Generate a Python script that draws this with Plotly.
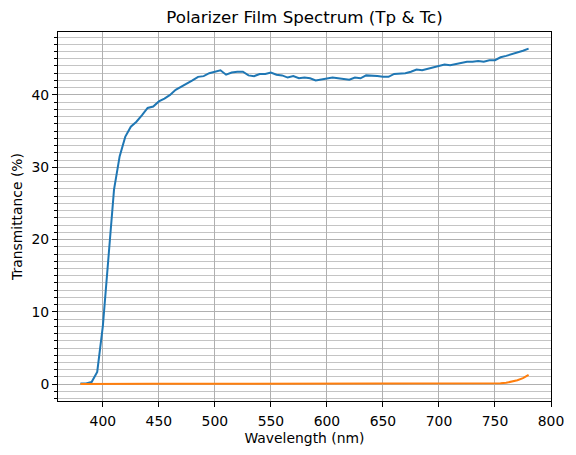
import plotly.graph_objects as go

wavelength = list(range(380, 781, 5))

tp = [0.1, 0.1, 0.3, 1.7, 8.0, 17.5, 26.9, 31.5, 34.2, 35.6, 36.3, 37.2, 38.2, 38.4, 39.1, 39.5,
      40.0, 40.7, 41.1, 41.6, 42.0, 42.5, 42.6, 43.0, 43.2, 43.4, 42.8, 43.1, 43.2, 43.2, 42.7,
      42.6, 42.9, 42.9, 43.1, 42.8, 42.7, 42.4, 42.6, 42.3, 42.4, 42.3, 42.0, 42.1, 42.2, 42.4,
      42.3, 42.2, 42.1, 42.4, 42.3, 42.7, 42.7, 42.6, 42.5, 42.5, 42.9, 42.9, 43.0, 43.2, 43.5,
      43.4, 43.6, 43.8, 43.9, 44.2, 44.1, 44.3, 44.4, 44.6, 44.6, 44.7, 44.6, 44.8, 44.8, 45.2,
      45.4, 45.6, 45.8, 46.1, 46.4]

tc = [0.02, 0.03, 0.05, 0.06, 0.07, 0.08, 0.1, 0.1, 0.1, 0.1, 0.09, 0.09, 0.08, 0.08, 0.08, 0.07,
      0.07, 0.07, 0.07, 0.07, 0.06, 0.05, 0.05, 0.05, 0.05, 0.05, 0.05, 0.05, 0.05, 0.05, 0.05,
      0.05, 0.05, 0.05, 0.05, 0.05, 0.05, 0.05, 0.05, 0.05, 0.05, 0.05, 0.05, 0.05, 0.05, 0.05,
      0.05, 0.05, 0.05, 0.05, 0.05, 0.05, 0.05, 0.05, 0.05, 0.05, 0.05, 0.05, 0.05, 0.05, 0.05,
      0.05, 0.05, 0.05, 0.05, 0.05, 0.05, 0.05, 0.05, 0.05, 0.05, 0.05, 0.06, 0.07, 0.08, 0.12,
      0.2, 0.35, 0.55, 0.85, 1.3]

x_ticks = [400, 450, 500, 550, 600, 650, 700, 750, 800]
y_ticks = [0, 10, 20, 30, 40]

FONT = "DejaVu Sans"

fig = go.Figure()
fig.add_trace(go.Scatter(x=wavelength, y=tp, mode="lines", name="Tp",
                         line=dict(color="#1f77b4", width=2)))
fig.add_trace(go.Scatter(x=wavelength, y=tc, mode="lines", name="Tc",
                         line=dict(color="#ff7f0e", width=2)))

fig.update_layout(
    width=576, height=455,
    margin=dict(l=58, r=23, t=32, b=53),
    paper_bgcolor="white", plot_bgcolor="white",
    showlegend=False,
    font=dict(family=FONT, size=13.9, color="black"),
    title=dict(text="Polarizer Film Spectrum (Tp & Tc)", x=0.5, xref="paper",
               y=1 - 17.5 / 455, yref="container", yanchor="middle", xanchor="center",
               font=dict(family=FONT, size=16.7, color="black")),
)

fig.update_xaxes(
    range=[360, 800], tickvals=x_ticks, ticks="outside", ticklen=5, tickwidth=1,
    tickcolor="black", showline=True, linecolor="black", linewidth=1, mirror=True,
    showgrid=True, gridcolor="#b0b0b0", gridwidth=1, zeroline=False,
    ticklabelstandoff=2,
    title=dict(text="Wavelength (nm)", standoff=5, font=dict(size=13.9)),
)
fig.update_yaxes(
    range=[-2.32, 48.7], tickvals=y_ticks, ticks="outside", ticklen=5, tickwidth=1,
    tickcolor="black", showline=True, linecolor="black", linewidth=1, mirror=True,
    showgrid=True, gridcolor="#b0b0b0", gridwidth=1, zeroline=False,
    minor=dict(dtick=1, tick0=0, ticks="outside", ticklen=3, tickcolor="black",
               showgrid=True, gridcolor="#c4c4c4", gridwidth=1),
    title=dict(text="Transmittance (%)", standoff=5, font=dict(size=13.9)),
)

fig.write_html("out.html")
